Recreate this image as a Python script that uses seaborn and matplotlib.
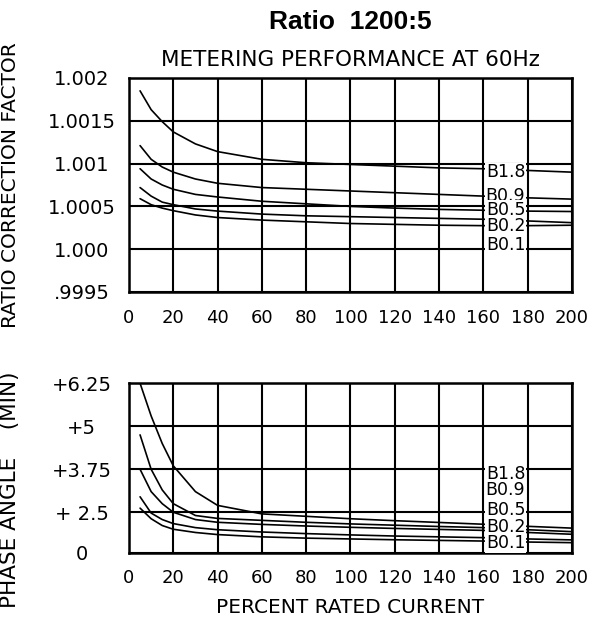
import numpy as np
import pandas as pd
import matplotlib
matplotlib.use("Agg")
import matplotlib.pyplot as plt
import seaborn as sns

# Percent of rated current at which the curves are read
pct = [5, 10, 15, 20, 30, 40, 60, 80, 100, 120, 140, 160, 180, 200]
burdens = ["B1.8", "B0.9", "B0.5", "B0.2", "B0.1"]

# Ratio correction factor per burden
rcf_b18 = [1.00185, 1.00163, 1.00149, 1.00137, 1.00123, 1.00114, 1.00105,
           1.00101, 1.00099, 1.00097, 1.00095, 1.00094, 1.00092, 1.00090]
rcf_b09 = [1.00121, 1.00105, 1.00096, 1.00090, 1.00082, 1.00077, 1.00072,
           1.00070, 1.00068, 1.00066, 1.00064, 1.00062, 1.00060, 1.000585]
rcf_b05 = [1.00094, 1.00082, 1.00075, 1.00070, 1.00064, 1.00061, 1.00056,
           1.00053, 1.00050, 1.00048, 1.000465, 1.000455, 1.000445, 1.00044]
rcf_b02 = [1.00072, 1.00062, 1.00055, 1.00052, 1.00047, 1.000445, 1.00041,
           1.00039, 1.00038, 1.00037, 1.00036, 1.00035, 1.00033, 1.00031]
rcf_b01 = [1.00059, 1.00052, 1.00048, 1.00045, 1.00040, 1.00037, 1.00034,
           1.00032, 1.00030, 1.00029, 1.00028, 1.000275, 1.000275, 1.00028]

# Phase angle (minutes) per burden
ph_b18 = [6.25, 5.3, 4.5, 3.85, 3.1, 2.7, 2.4, 2.25, 2.1, 1.98, 1.87, 1.76, 1.63, 1.52]
ph_b09 = [4.75, 3.75, 3.15, 2.75, 2.3, 2.12, 2.0, 1.88, 1.78, 1.7, 1.62, 1.55, 1.42, 1.3]
ph_b05 = [3.75, 3.1, 2.75, 2.5, 2.05, 1.88, 1.75, 1.65, 1.57, 1.5, 1.44, 1.38, 1.25, 1.14]
ph_b02 = [2.95, 2.45, 2.05, 1.8, 1.55, 1.42, 1.28, 1.18, 1.1, 1.03, 0.98, 0.93, 0.85, 0.79]
ph_b01 = [2.62, 2.1, 1.68, 1.45, 1.25, 1.12, 0.98, 0.9, 0.85, 0.8, 0.76, 0.72, 0.66, 0.62]

# Axis ticks and labels
x_ticks = [0, 20, 40, 60, 80, 100, 120, 140, 160, 180, 200]
rcf_ticks = [0.9995, 1.000, 1.0005, 1.001, 1.0015, 1.002]
rcf_tick_labels = [".9995", "1.000", "1.0005", "1.001", "1.0015", "1.002"]
ph_ticks = [0, 2.5, 3.75, 5, 6.25]
ph_tick_labels = ["0", "+ 2.5", "+3.75", "+5", "+6.25"]

# Where the burden tags sit on each panel
tag_x = 170
rcf_tag_y = [1.000898, 1.000625, 1.00046, 1.000273, 1.000047]
ph_tag_y = [3.60, 3.15, 2.57, 1.61, 0.58]

rcf_df = pd.DataFrame({
    "pct": pct * 5,
    "value": rcf_b18 + rcf_b09 + rcf_b05 + rcf_b02 + rcf_b01,
    "burden": sum([[b] * len(pct) for b in burdens], []),
})
ph_df = pd.DataFrame({
    "pct": pct * 5,
    "value": ph_b18 + ph_b09 + ph_b05 + ph_b02 + ph_b01,
    "burden": sum([[b] * len(pct) for b in burdens], []),
})

sns.set_theme(style="white")
plt.rcParams["font.family"] = ["DejaVu Sans"]
plt.rcParams["axes.edgecolor"] = "black"
plt.rcParams["axes.linewidth"] = 1.8
plt.rcParams["text.color"] = "black"
plt.rcParams["axes.labelcolor"] = "black"
plt.rcParams["xtick.color"] = "black"
plt.rcParams["ytick.color"] = "black"

fig = plt.figure(figsize=(5.95, 6.21), dpi=100)
ax1 = fig.add_axes([0.2168, 0.5298, 0.7445, 0.3446])
ax2 = fig.add_axes([0.2168, 0.1100, 0.7445, 0.2728])

palette = {b: "black" for b in burdens}

# Phase axis: the 0-2.5 band is drawn as one grid cell, like the other 1.25 steps
ph_pos = [0, 0.94, 1.94, 2.94, 3.94]
def ph_fwd(v):
    return np.interp(v, ph_ticks, ph_pos)
def ph_inv(p):
    return np.interp(p, ph_pos, ph_ticks)
ax2.set_yscale("function", functions=(ph_fwd, ph_inv))

sns.lineplot(data=rcf_df, x="pct", y="value", hue="burden", palette=palette,
             legend=False, linewidth=1.2, ax=ax1, zorder=3)
sns.lineplot(data=ph_df, x="pct", y="value", hue="burden", palette=palette,
             legend=False, linewidth=1.2, ax=ax2, zorder=3)

ax1.set_ylim(0.9995, 1.002)
ax2.set_ylim(0, 6.25)
for ax in (ax1, ax2):
    ax.set_xlim(0, 200)
    ax.set_xticks(x_ticks)
    ax.set_xticklabels([str(t) for t in x_ticks])
    ax.grid(True, color="black", linewidth=1.5)
    ax.set_axisbelow(True)
    ax.tick_params(axis="both", length=0)
    ax.tick_params(axis="x", labelsize=13, pad=12)
    ax.tick_params(axis="y", labelsize=14, pad=34)
    ax.set_xlabel("")
    ax.set_ylabel("")

ax1.set_yticks(rcf_ticks)
ax1.set_yticklabels(rcf_tick_labels)
ax2.set_yticks(ph_ticks)
ax2.set_yticklabels(ph_tick_labels)
for ax in (ax1, ax2):
    for lab in ax.get_yticklabels():
        lab.set_horizontalalignment("center")

for name, y in zip(burdens, rcf_tag_y):
    ax1.text(tag_x, y, name, ha="center", va="center", fontsize=12.5, zorder=5,
             bbox=dict(facecolor="white", edgecolor="none", pad=0.3))
for name, y in zip(burdens, ph_tag_y):
    ax2.text(tag_x, y, name, ha="center", va="center", fontsize=12.5, zorder=5,
             bbox=dict(facecolor="white", edgecolor="none", pad=0.3))

ax1.set_ylabel("RATIO CORRECTION FACTOR", fontsize=14.5)
ax1.yaxis.set_label_coords(-0.246, 0.5)
ax2.set_ylabel("PHASE ANGLE    (MIN)", fontsize=15.5)
ax2.yaxis.set_label_coords(-0.246, 0.37)
ax2.set_xlabel("PERCENT RATED CURRENT", fontsize=14.5)
ax2.xaxis.set_label_coords(0.5, -0.265)

ax1.set_title("METERING PERFORMANCE AT 60Hz", fontsize=15.5, y=1.084,
              va="center", pad=0)
fig.suptitle("Ratio  1200:5", x=350.5 / 595, y=1 - 22 / 621, va="center",
             fontsize=19, fontweight="bold", family="Liberation Sans")

fig.savefig("out.png", dpi=100, facecolor="white")
